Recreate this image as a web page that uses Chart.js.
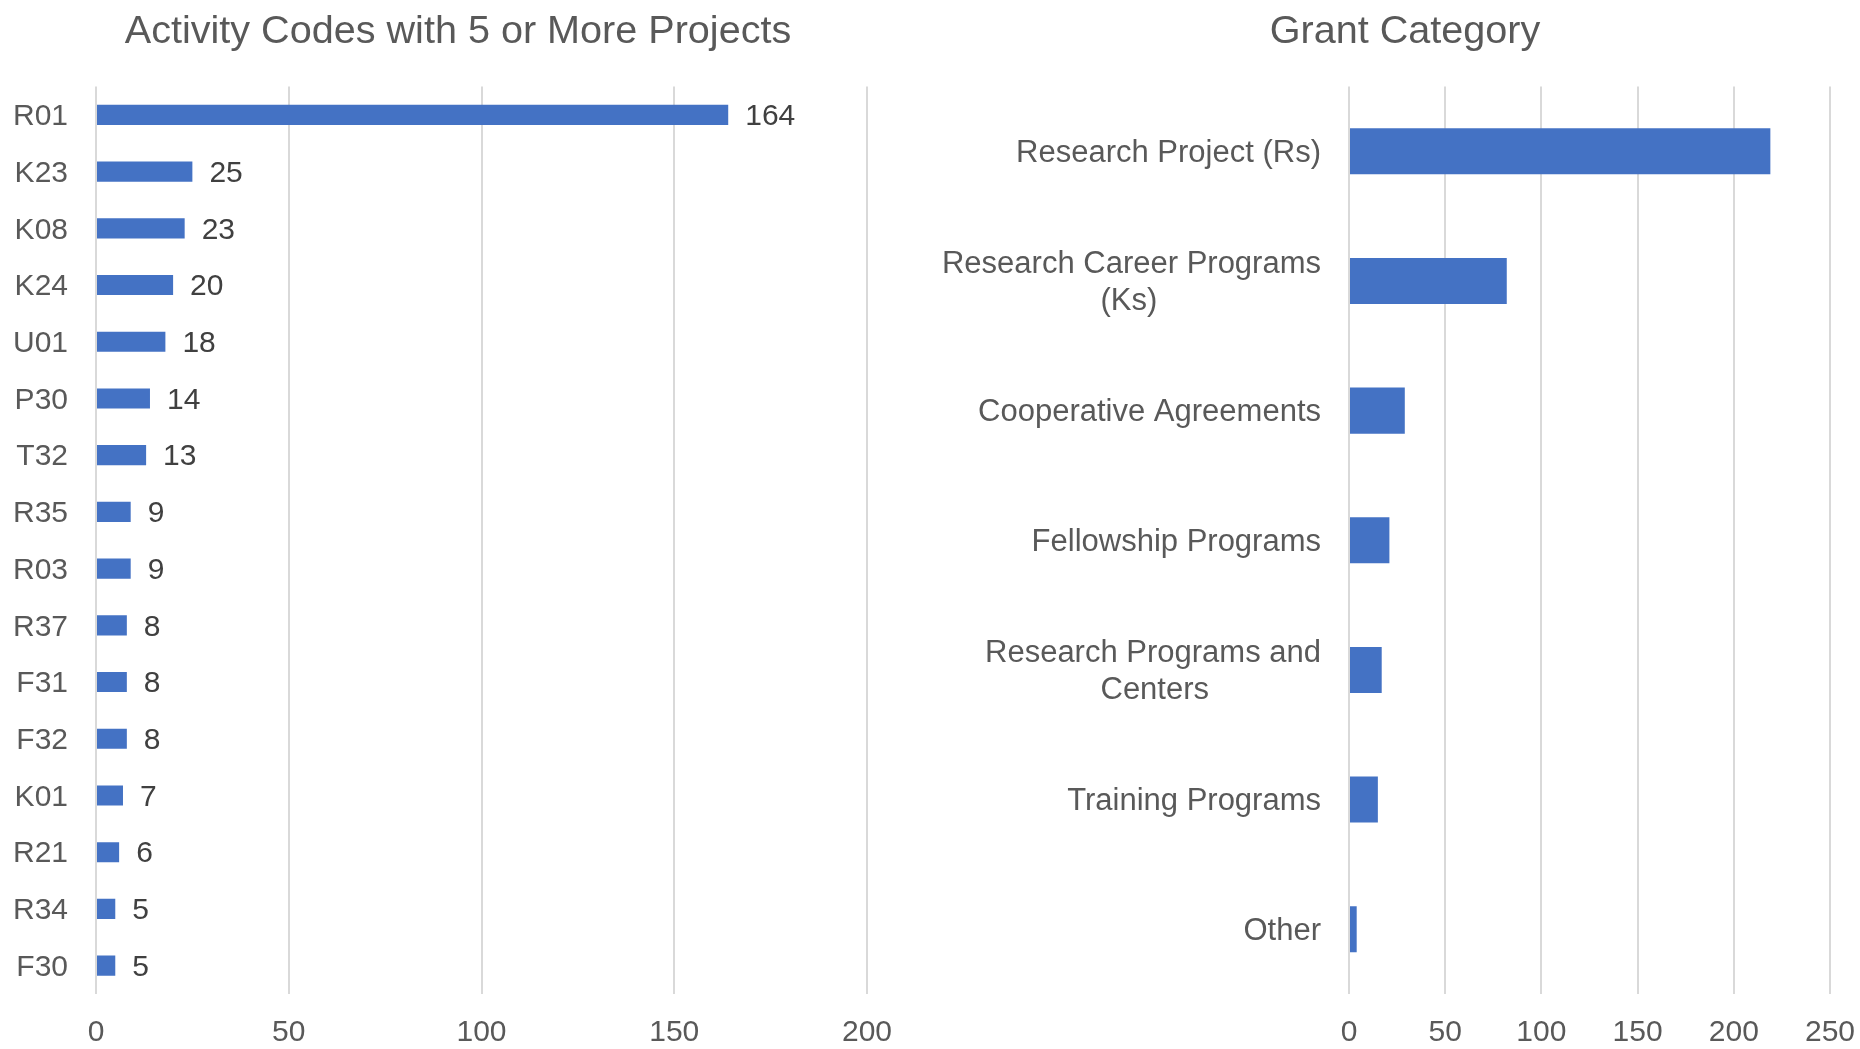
<html>
<head>
  <script src="https://cdn.jsdelivr.net/npm/chart.js@4.4.0/dist/chart.umd.min.js"></script>
</head>

<body style="padding: 0; margin: 0; background: #fff; font-family: 'Liberation Sans', Arial, sans-serif;">

<canvas id="codes" width="930" height="1049" style="position: absolute; left: 0; top: 0;"></canvas>
<canvas id="categories" width="930" height="1049" style="position: absolute; left: 930px; top: 0;"></canvas>

<script>
  const codeLabels = ['R01', 'K23', 'K08', 'K24', 'U01', 'P30', 'T32', 'R35', 'R03', 'R37', 'F31', 'F32', 'K01', 'R21', 'R34', 'F30']
  const codeCounts = [164, 25, 23, 20, 18, 14, 13, 9, 9, 8, 8, 8, 7, 6, 5, 5]

  const categoryLabels = [
    'Research Project (Rs)',
    ['Research Career Programs', '(Ks)'],
    'Cooperative Agreements',
    'Fellowship Programs',
    ['Research Programs and', 'Centers'],
    'Training Programs',
    'Other',
  ]
  const categoryCounts = [219, 82, 29, 21, 17, 15, 4]

  const codeTicks = [0, 50, 100, 150, 200]
  const categoryTicks = [0, 50, 100, 150, 200, 250]

  const FONT = "'Liberation Sans', Arial, sans-serif"
  const BLUE = '#4472C4'
  const GREY_TEXT = '#595959'
  const GRID = '#d9d9d9'

  // pad shorter lines with trailing spaces so a right-aligned block looks centred line by line
  const measure = document.createElement('canvas').getContext('2d')
  const centerLines = (lines, size) => {
    if (!Array.isArray(lines)) return lines
    measure.font = `${size}px ${FONT}`
    const widest = Math.max(...lines.map(l => measure.measureText(l).width))
    const space = measure.measureText(' ').width
    return lines.map(l => l + ' '.repeat(Math.round((widest - measure.measureText(l).width) / 2 / space)))
  }

  const valueLabels = {
    id: 'valueLabels',
    afterDatasetsDraw(chart) {
      const ctx = chart.ctx
      const values = chart.data.datasets[0].data
      ctx.save()
      ctx.font = `30px ${FONT}`
      ctx.fillStyle = '#404040'
      ctx.textAlign = 'left'
      ctx.textBaseline = 'middle'
      chart.getDatasetMeta(0).data.forEach((bar, i) => ctx.fillText(values[i], bar.x + 17, bar.y + 2))
      ctx.restore()
    }
  }

  // nudge the title sideways so it sits over the whole panel, labels included
  const titleShift = shift => ({
    id: 'titleShift',
    afterLayout(chart) { chart.titleBlock.left += shift },
  })

  const makeChart = (id, cfg) => new Chart(document.getElementById(id), {
    type: 'bar',
    data: {
      labels: cfg.labels,
      datasets: [{
        data: cfg.data,
        backgroundColor: BLUE,
        barPercentage: 0.355,
        categoryPercentage: 1,
      }]
    },
    plugins: [titleShift(cfg.titleShift), ...(cfg.plugins || [])],
    options: {
      indexAxis: 'y',
      responsive: false,
      animation: false,
      layout: {padding: {left: 0, right: cfg.rightPad, top: 0, bottom: 0}},
      plugins: {
        legend: {display: false},
        tooltip: {enabled: false},
        title: {
          display: true,
          text: cfg.title,
          color: GREY_TEXT,
          font: {family: FONT, size: 39.6, weight: 'normal'},
          padding: {top: 8, bottom: 31},
        },
      },
      scales: {
        x: {
          min: 0,
          max: cfg.ticks[cfg.ticks.length - 1],
          afterBuildTicks: scale => { scale.ticks = cfg.ticks.map(v => ({value: v})) },
          afterFit: scale => {
            scale.height = 55
            scale.paddingLeft = 0
            scale.paddingRight = 0
          },
          grid: {color: GRID, lineWidth: 2, drawTicks: false},
          border: {display: false},
          ticks: {color: GREY_TEXT, padding: 21, font: {family: FONT, size: 30}},
        },
        y: {
          grid: {display: false, drawTicks: false},
          border: {display: false},
          afterFit: scale => {
            scale.width = cfg.axisWidth
            scale.paddingTop = 0
            scale.paddingBottom = 0
          },
          ticks: {
            color: GREY_TEXT,
            padding: 28,
            labelOffset: 2,
            autoSkip: false,
            font: {family: FONT, size: cfg.labelSize, lineHeight: 1.2},
            callback: function(value) { return centerLines(this.getLabelForValue(value), cfg.labelSize) },
          },
        },
      },
    },
  })

  makeChart('codes', {
    title: 'Activity Codes with 5 or More Projects',
    titleShift: 49,
    labels: codeLabels,
    data: codeCounts,
    ticks: codeTicks,
    rightPad: 63,
    axisWidth: 96,
    labelSize: 30,
    plugins: [valueLabels],
  })

  makeChart('categories', {
    title: 'Grant Category',
    titleShift: 50,
    labels: categoryLabels,
    data: categoryCounts,
    ticks: categoryTicks,
    rightPad: 30,
    axisWidth: 419,
    labelSize: 31,
  })
</script>
</body>
</html>
